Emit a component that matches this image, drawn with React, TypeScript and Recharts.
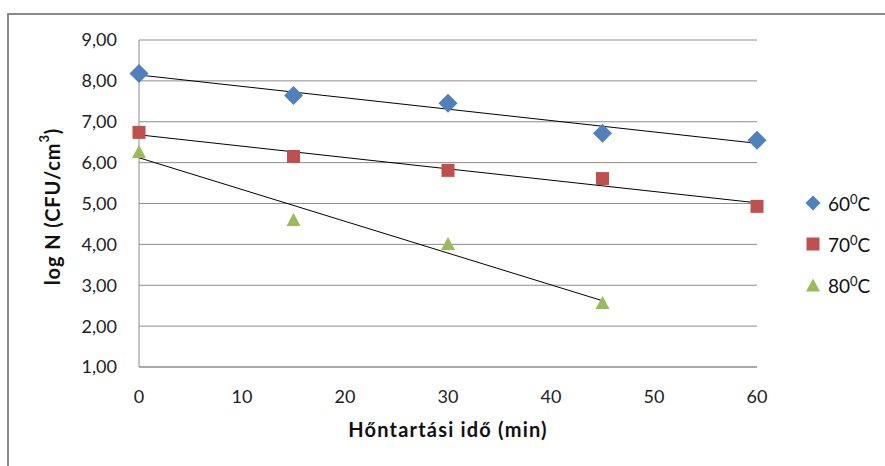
import React from 'react';
import { ScatterChart, Scatter, XAxis, YAxis, CartesianGrid } from 'recharts';

// Hőntartási idő (min)
const times = [0, 15, 30, 45, 60];
// log N (CFU/cm3) per temperature
const logN60 = [8.18, 7.64, 7.45, 6.72, 6.55];
const logN70 = [6.74, 6.15, 5.81, 5.61, 4.93];
const logN80 = [6.27, 4.61, 4.02, 2.58];

const xTicks = [0, 10, 20, 30, 40, 50, 60];
const yTicks = [1, 2, 3, 4, 5, 6, 7, 8, 9];

const FONT = 'Lato, "Open Sans", sans-serif';
const GRID = '#8c8c8c';

const toPoints = (ys: number[]) => ys.map((y, i) => ({ x: times[i], y }));

// linear trendline (least squares), like Excel's
const trend = (ys: number[]) => {
  const xs = times.slice(0, ys.length);
  const n = ys.length;
  const mx = xs.reduce((a, b) => a + b, 0) / n;
  const my = ys.reduce((a, b) => a + b, 0) / n;
  let sxy = 0;
  let sxx = 0;
  xs.forEach((x, i) => {
    sxy += (x - mx) * (ys[i] - my);
    sxx += (x - mx) * (x - mx);
  });
  const k = sxy / sxx;
  const b = my - k * mx;
  const x0 = xs[0];
  const x1 = xs[n - 1];
  return [
    { x: x0, y: b + k * x0 },
    { x: x1, y: b + k * x1 },
  ];
};

const series = [
  { name: '60', color: '#4f81bd', data: logN60, marker: 'diamond' },
  { name: '70', color: '#c0504d', data: logN70, marker: 'square' },
  { name: '80', color: '#9bbb59', data: logN80, marker: 'triangle' },
];

const Marker = ({ type, cx, cy, color, small }: { type: string; cx: number; cy: number; color: string; small?: boolean }) => {
  if (type === 'diamond') {
    const r = small ? 7.5 : 9.5;
    return <path d={`M${cx},${cy - r}L${cx + r},${cy}L${cx},${cy + r}L${cx - r},${cy}Z`} fill={color} />;
  }
  if (type === 'square') {
    const s = 13;
    return <rect x={cx - s / 2} y={cy - s / 2} width={s} height={s} fill={color} />;
  }
  const w = 14;
  const h = 13;
  return <path d={`M${cx},${cy - h / 2}L${cx + w / 2},${cy + h / 2}L${cx - w / 2},${cy + h / 2}Z`} fill={color} />;
};

const fmt = (v: number) => v.toFixed(2).replace('.', ',');

const YTitle = (props: any) => {
  const { viewBox } = props;
  const cx = viewBox.x + 52;
  const cy = viewBox.y + viewBox.height / 2 + 3;
  return (
    <text
      x={cx}
      y={cy}
      transform={`rotate(-90 ${cx} ${cy})`}
      textAnchor="middle"
      dominantBaseline="central"
      fontFamily={FONT}
      fontWeight="bold"
      fontSize={20}
      letterSpacing={0.9}
      fill="#111"
    >
      log N (CFU/cm<tspan dy={-8} fontSize={13}>3</tspan>
      <tspan dy={8}>)</tspan>
    </text>
  );
};

const XTitle = (props: any) => {
  const { viewBox } = props;
  return (
    <text
      x={viewBox.x + viewBox.width / 2}
      y={437}
      textAnchor="middle"
      fontFamily={FONT}
      fontWeight="bold"
      fontSize={20}
      letterSpacing={1.2}
      fill="#111"
    >
      Hőntartási idő (min)
    </text>
  );
};

const LegendBox = () => (
  <div style={{ position: 'absolute', left: 802, top: 182, fontFamily: FONT, fontSize: 19, color: '#111' }}>
    {series.map((s) => (
      <div key={s.name} style={{ display: 'flex', alignItems: 'center', height: 41 }}>
        <svg width={22} height={22} style={{ marginRight: 4 }}>
          <Marker type={s.marker} cx={11} cy={11} color={s.color} small />
        </svg>
        <span>
          {s.name}
          <span style={{ fontSize: 13, verticalAlign: 7 }}>0</span>C
        </span>
      </div>
    ))}
  </div>
);

export default function App() {
  return (
    <div style={{ position: 'absolute', left: 0, top: 0, width: 885, height: 466, overflow: 'hidden', background: '#fff' }}>
      <div
        style={{
          position: 'absolute',
          left: 7,
          top: 13,
          width: 900,
          height: 500,
          borderTop: '2px solid #8a8a8a',
          borderLeft: '2px solid #8a8a8a',
        }}
      />
      <ScatterChart width={885} height={466} margin={{ top: 40, right: 128, bottom: 0, left: 0 }}>
        <CartesianGrid horizontal vertical={false} stroke={GRID} strokeWidth={1} />
        <XAxis
          type="number"
          dataKey="x"
          domain={[0, 60]}
          ticks={xTicks}
          height={99}
          tickLine={false}
          axisLine={{ stroke: GRID }}
          tickMargin={17}
          tick={{ fontFamily: FONT, fontSize: 18, fill: '#222' }}
          label={<XTitle />}
        />
        <YAxis
          type="number"
          dataKey="y"
          domain={[1, 9]}
          ticks={yTicks}
          width={139}
          tickLine={false}
          axisLine={{ stroke: GRID }}
          tickMargin={16}
          tickFormatter={fmt}
          tick={{ fontFamily: FONT, fontSize: 18, fill: '#222' }}
          label={<YTitle />}
        />
        {series.map((s) => (
          <Scatter
            key={'t' + s.name}
            data={trend(s.data)}
            line={{ stroke: '#000', strokeWidth: 1 }}
            shape={() => <g />}
            legendType="none"
            isAnimationActive={false}
          />
        ))}
        {series.map((s) => (
          <Scatter
            key={s.name}
            name={s.name}
            data={toPoints(s.data)}
            fill={s.color}
            shape={(p: any) => <Marker type={s.marker} cx={p.cx} cy={p.cy} color={s.color} />}
            isAnimationActive={false}
          />
        ))}
      </ScatterChart>
      <LegendBox />
    </div>
  );
}
